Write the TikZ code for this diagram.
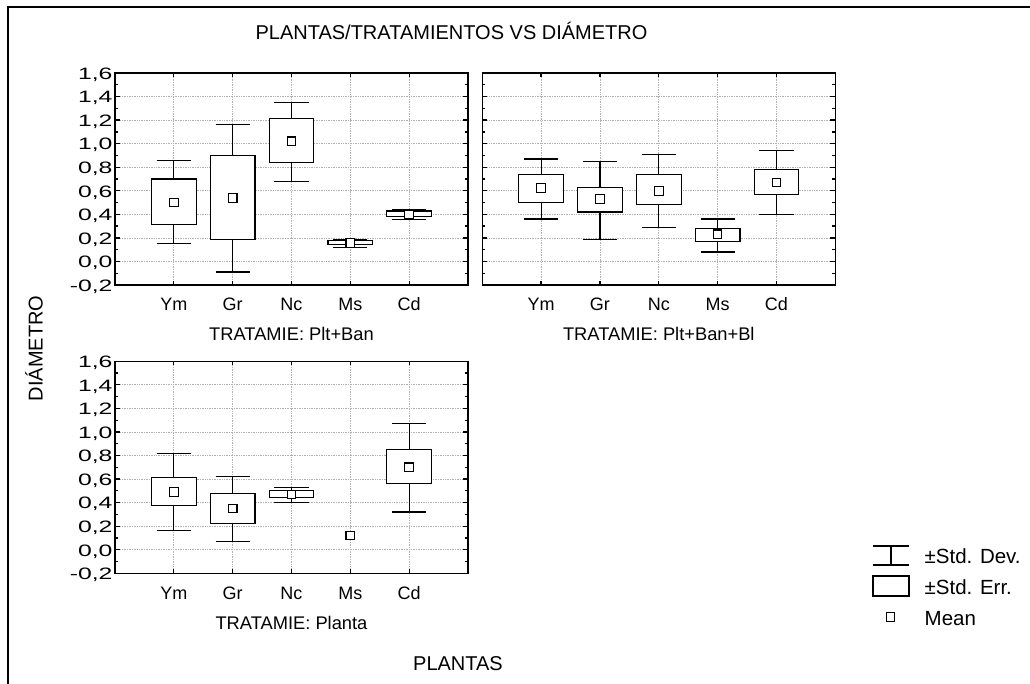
\documentclass[tikz,border=0pt]{standalone}
\usepackage{fontspec}
\setmainfont{Liberation Sans}
\usetikzlibrary{positioning}

\tikzset{
  outerframe/.style={line width=1.6pt},
  panelframe/.style={line width=1.3pt},
  gridline/.style={gray!60, densely dotted, line width=0.7pt},
  boxline/.style={line width=1.1pt},
  ticklab/.style={font=\fontsize{16.5}{16.5}\selectfont, anchor=base east, yshift=-6.3pt, inner sep=0pt},
  catlab/.style={font=\fontsize{18}{18}\selectfont, anchor=base, yshift=-25.8pt, inner sep=0pt},
  paneltitle/.style={font=\fontsize{18.3}{18.3}\selectfont, anchor=base, yshift=-55.8pt, inner sep=0pt},
  axistitle/.style={font=\fontsize{20}{20}\selectfont, anchor=base, inner sep=0pt},
  legtext/.style={font=\fontsize{20.5}{20.5}\selectfont, anchor=base west, inner sep=0pt}
}
\newcommand{\wide}[1]{\scalebox{1.5}[1]{#1}}
% grid, ticks and frame of one panel
\newcommand{\panelbase}{%
  \foreach \k in {0,...,7} \draw[gridline] (0,\k/5) -- (6,\k/5);
  \foreach \i in {1,...,5} \draw[gridline] (\i,-0.2) -- (\i,1.6);
  \foreach \k in {-1,...,8} {
    \draw[panelframe] (0,\k/5) -- ++(5pt,0);
    \draw[panelframe] (6,\k/5) -- ++(-5pt,0);
  }
  \foreach \k in {-1,...,7} {
    \draw[panelframe] (0,\k/5+0.1) -- ++(3pt,0);
    \draw[panelframe] (6,\k/5+0.1) -- ++(-3pt,0);
  }
  \foreach \i in {1,...,5} {
    \draw[panelframe] (\i,-0.2) -- ++(0,4pt);
    \draw[panelframe] (\i,1.6) -- ++(0,-4pt);
  }
  \draw[panelframe] (0,-0.2) rectangle (6,1.6);
  \foreach \i/\c in {1/Ym,2/Gr,3/Nc,4/Ms,5/Cd}
    \node[catlab] (c\i) at (\i,-0.2) {\c};
}
\newcommand{\yticks}{%
  \foreach \k/\t in {-1/{-0,2},0/{0,0},1/{0,2},2/{0,4},3/{0,6},4/{0,8},5/{1,0},6/{1,2},7/{1,4},8/{1,6}}
    \node[ticklab] (y\k) at ([xshift=-2.3pt]0,\k/5) {\wide{\t}};
}

\begin{document}
\begin{tikzpicture}[x=1pt, y=-1pt]
\useasboundingbox (0,0) rectangle (1030,684);
% outer frame, only top and left show
\draw[outerframe] (8,690) -- (8,7) -- (1040,7);

\node[axistitle] (title) at (451.5,40) {PLANTAS/TRATAMIENTOS VS DIÁMETRO};
\node[axistitle, rotate=90] (ytitle) at (42.7,348.5) {DIÁMETRO};
\node[axistitle] (xtitle) at (458,670) {PLANTAS};

% panel 1
\begin{scope}[shift={(115,261.44)}, x=58.83pt, y=117.8pt]
  \panelbase
  \yticks
  \node[paneltitle] (p1) at (3,-0.2) {TRATAMIE: Plt+Ban};
  \foreach \i/\wb/\bb/\m/\bt/\wt in {1/0.15/0.31/0.50/0.70/0.86, 2/-0.09/0.19/0.54/0.90/1.16,
      3/0.68/0.84/1.02/1.21/1.35, 4/0.12/0.14/0.155/0.175/0.19, 5/0.357/0.38/0.40/0.428/0.44} {
    \draw[boxline] (\i,\wb) -- (\i,\bb) (\i,\bt) -- (\i,\wt);
    \draw[boxline] (\i-0.29,\wb) -- (\i+0.29,\wb) (\i-0.29,\wt) -- (\i+0.29,\wt);
    \draw[boxline, fill=white] (\i-0.38,\bb) rectangle (\i+0.38,\bt);
    \draw[boxline, fill=white] (\i,\m) ++(-4.3pt,-4.3pt) rectangle ++(8.6pt,8.6pt);
  }
\end{scope}

% panel 2
\begin{scope}[shift={(482.3,261.44)}, x=58.83pt, y=117.8pt]
  \panelbase
  \node[paneltitle] (p2) at (3,-0.2) {TRATAMIE: Plt+Ban+Bl};
  \foreach \i/\wb/\bb/\m/\bt/\wt in {1/0.36/0.50/0.625/0.74/0.87, 2/0.19/0.42/0.53/0.63/0.85,
      3/0.29/0.48/0.60/0.74/0.91, 4/0.08/0.17/0.23/0.28/0.36, 5/0.40/0.57/0.67/0.78/0.94} {
    \draw[boxline] (\i,\wb) -- (\i,\bb) (\i,\bt) -- (\i,\wt);
    \draw[boxline] (\i-0.29,\wb) -- (\i+0.29,\wb) (\i-0.29,\wt) -- (\i+0.29,\wt);
    \draw[boxline, fill=white] (\i-0.38,\bb) rectangle (\i+0.38,\bt);
    \draw[boxline, fill=white] (\i,\m) ++(-4.3pt,-4.3pt) rectangle ++(8.6pt,8.6pt);
  }
\end{scope}

% panel 3
\begin{scope}[shift={(115,549.74)}, x=58.83pt, y=117.8pt]
  \panelbase
  \yticks
  \node[paneltitle] (p3) at (3,-0.2) {TRATAMIE: Planta};
  \foreach \i/\wb/\bb/\m/\bt/\wt in {1/0.16/0.375/0.49/0.61/0.82, 2/0.07/0.22/0.35/0.48/0.62,
      3/0.40/0.445/0.47/0.50/0.53, 5/0.32/0.56/0.70/0.85/1.07} {
    \draw[boxline] (\i,\wb) -- (\i,\bb) (\i,\bt) -- (\i,\wt);
    \draw[boxline] (\i-0.29,\wb) -- (\i+0.29,\wb) (\i-0.29,\wt) -- (\i+0.29,\wt);
    \draw[boxline, fill=white] (\i-0.38,\bb) rectangle (\i+0.38,\bt);
    \draw[boxline, fill=white] (\i,\m) ++(-4.3pt,-4.3pt) rectangle ++(8.6pt,8.6pt);
  }
  % Ms: mean only
  \draw[boxline, fill=white] (4,0.12) ++(-4.3pt,-4.3pt) rectangle ++(8.6pt,8.6pt);
\end{scope}

% legend
\coordinate (devsym) at (891,555.5);
\coordinate (errsym) at (891,586);
\coordinate (meansym) at (890.5,617);
\draw[boxline] ([xshift=-18pt,yshift=-9.5pt]devsym) -- ([xshift=18pt,yshift=-9.5pt]devsym)
  ([yshift=-9.5pt]devsym) -- ([yshift=9.5pt]devsym)
  ([xshift=-18pt,yshift=9.5pt]devsym) -- ([xshift=18pt,yshift=9.5pt]devsym);
\draw[boxline] ([xshift=-18pt,yshift=-10pt]errsym) rectangle ([xshift=18pt,yshift=10pt]errsym);
\draw[boxline] ([xshift=-4.3pt,yshift=-4.3pt]meansym) rectangle ([xshift=4.3pt,yshift=4.3pt]meansym);
\node[legtext] (ldev) at (924.5,563.3) {±Std. Dev.};
\node[legtext] (lerr) at (924.5,594) {±Std. Err.};
\node[legtext] (lmean) at (924.5,625) {Mean};
\end{tikzpicture}
\end{document}
